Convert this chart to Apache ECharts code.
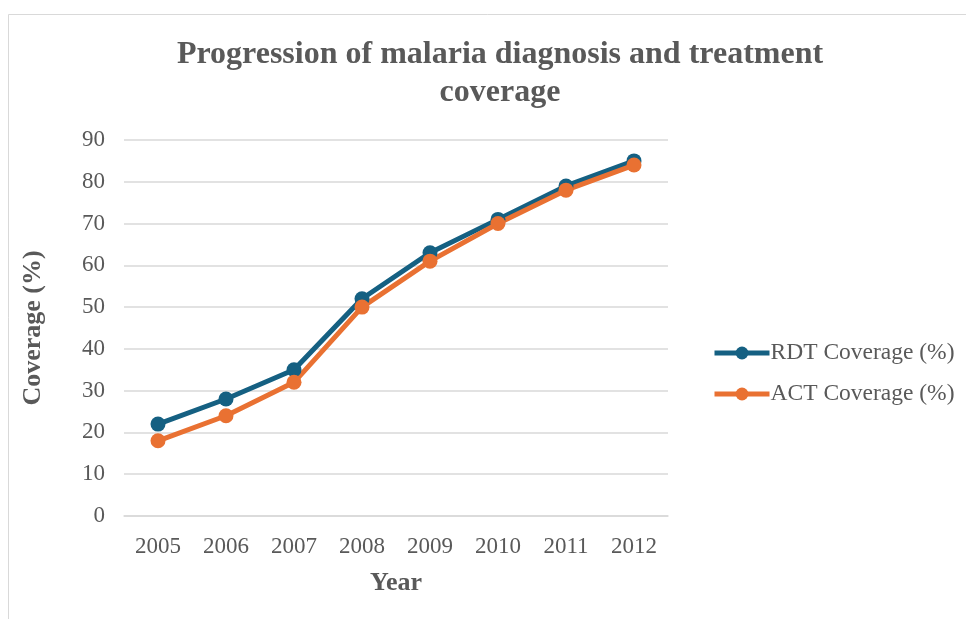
<!DOCTYPE html>
<html>
<head>
<meta charset="utf-8">
<title>Malaria coverage</title>
<script src="https://cdn.jsdelivr.net/npm/echarts@6/dist/echarts.min.js"></script>
</head>
<body style="margin: 0;">
<div id="main" style="width: 966px;height: 619px;"></div>
<script type="text/javascript">
    var years = ['2005', '2006', '2007', '2008', '2009', '2010', '2011', '2012'];
    var rdtCoverage = [22, 28, 35, 52, 63, 71, 79, 85];
    var actCoverage = [18, 24, 32, 50, 61, 70, 78, 84];

    var serif = '"Liberation Serif", "Times New Roman", serif';
    var grey = '#595959';

    var myChart = echarts.init(document.getElementById('main'));
    var option = {
        backgroundColor: '#fff',
        textStyle: { fontFamily: serif },
        graphic: [{
            type: 'rect',
            shape: { x: 8.5, y: 14.5, width: 980, height: 640 },
            style: { fill: 'none', stroke: '#d9d9d9', lineWidth: 1 },
            silent: true
        }],
        title: {
            text: 'Progression of malaria diagnosis and treatment\ncoverage',
            left: 495,
            textAlign: 'center',
            top: 31,
            textStyle: {
                fontFamily: serif,
                fontSize: 32,
                fontWeight: 'bold',
                color: grey,
                lineHeight: 38
            }
        },
        legend: {
            orient: 'vertical',
            left: 707,
            top: 336,
            itemGap: 17,
            itemWidth: 55,
            itemHeight: 16,
            lineStyle: { width: 5 },
            textStyle: { fontFamily: serif, fontSize: 23.5, color: grey, padding: [0, 0, 0, -4] },
            data: ['RDT Coverage (%)', 'ACT Coverage (%)']
        },
        grid: {
            left: 124,
            right: 298,
            top: 140,
            bottom: 103
        },
        xAxis: {
            type: 'category',
            data: years,
            name: 'Year',
            nameLocation: 'middle',
            nameGap: 54,
            nameTextStyle: { fontFamily: serif, fontSize: 26, fontWeight: 'bold', color: grey },
            axisLine: { lineStyle: { color: '#d9d9d9', width: 1.5 } },
            axisTick: { show: false },
            axisLabel: { fontFamily: serif, fontSize: 23, color: grey, margin: 19 }
        },
        yAxis: {
            type: 'value',
            min: 0,
            max: 90,
            interval: 10,
            name: 'Coverage (%)',
            nameLocation: 'middle',
            nameGap: 78,
            nameTextStyle: { fontFamily: serif, fontSize: 26, fontWeight: 'bold', color: grey },
            axisLine: { show: false },
            axisTick: { show: false },
            splitLine: { lineStyle: { color: '#d9d9d9', width: 1.5 } },
            axisLabel: { fontFamily: serif, fontSize: 23, color: grey, margin: 19 }
        },
        series: [{
            name: 'RDT Coverage (%)',
            type: 'line',
            data: rdtCoverage,
            color: '#156082',
            symbol: 'circle',
            symbolSize: 15,
            lineStyle: { width: 5 }
        }, {
            name: 'ACT Coverage (%)',
            type: 'line',
            data: actCoverage,
            color: '#e97132',
            symbol: 'circle',
            symbolSize: 15,
            lineStyle: { width: 5 }
        }]
    };
    myChart.setOption(option);
</script>
</body>
</html>
